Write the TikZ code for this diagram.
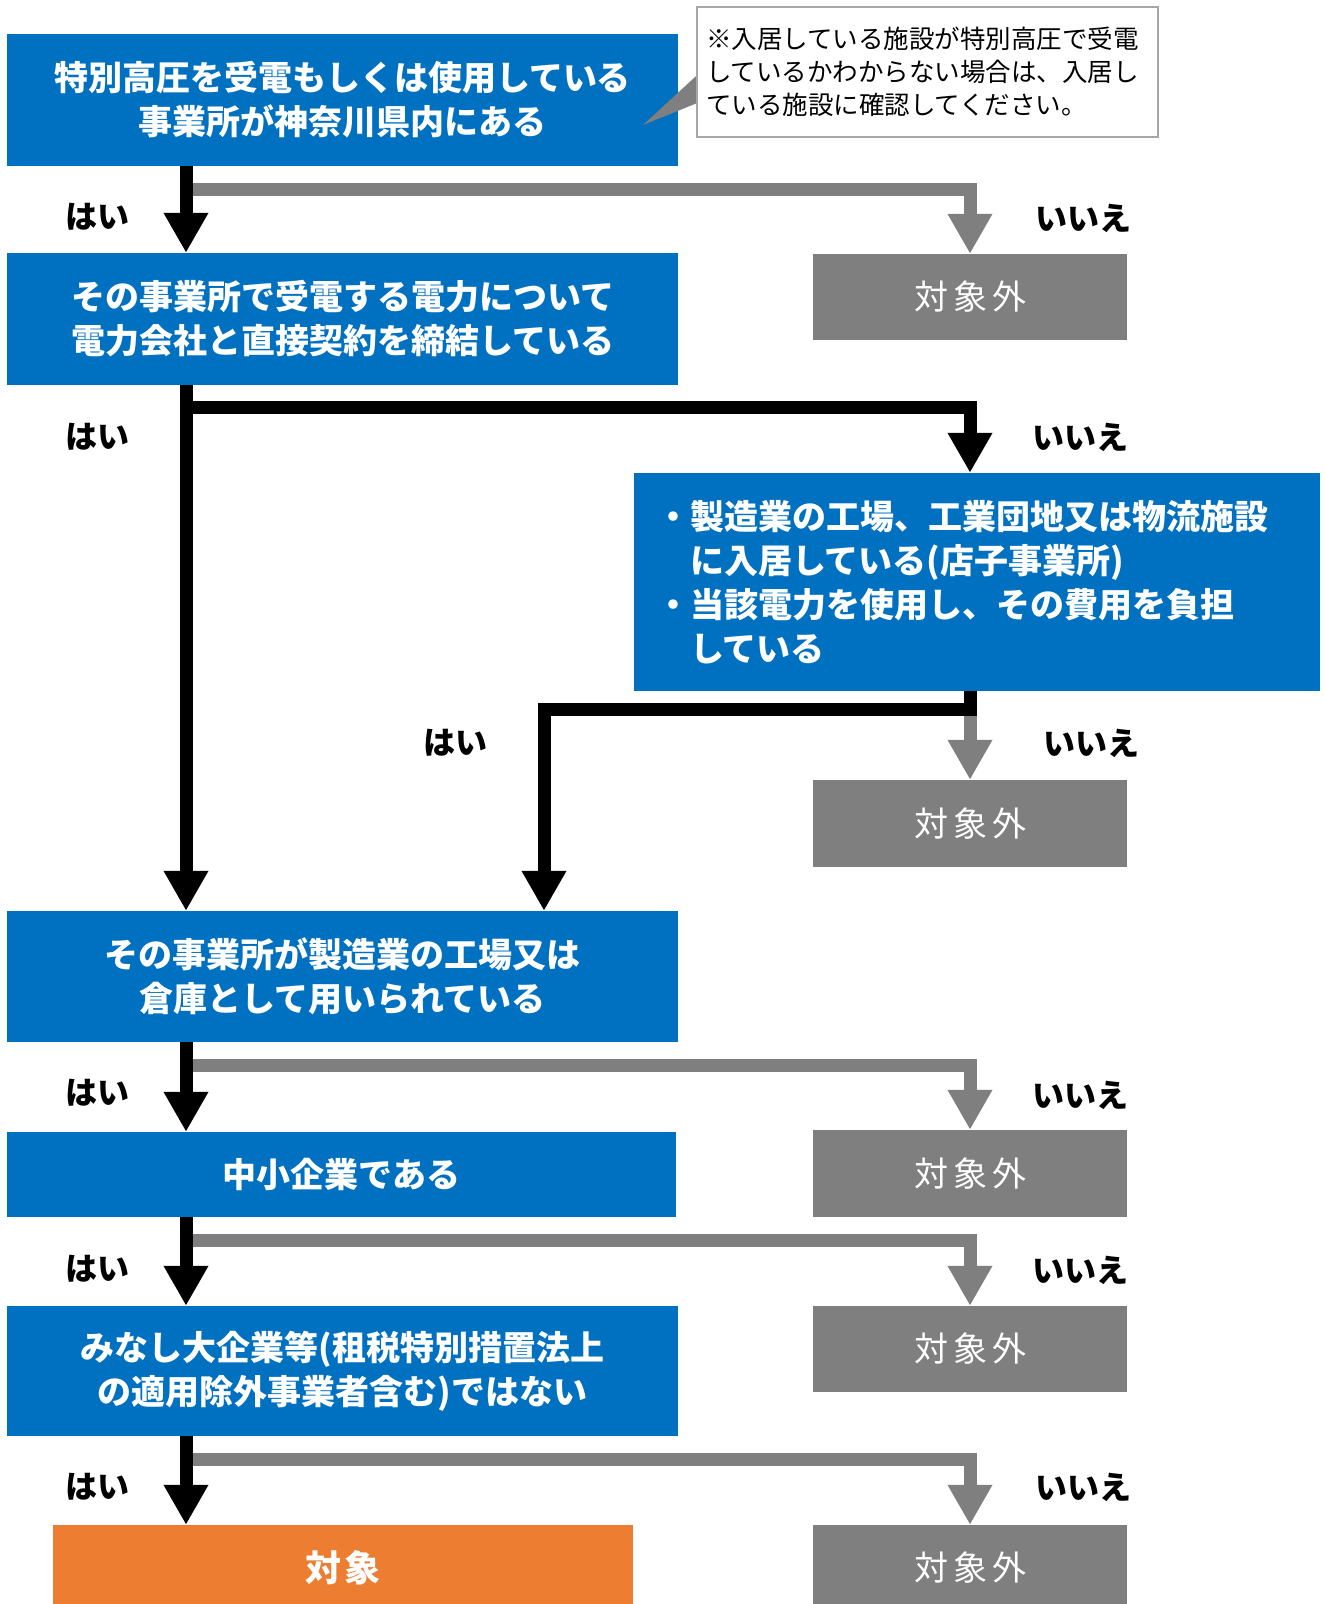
\documentclass[tikz,border=0pt]{standalone}
\usepackage{fontspec}
\setmainfont{Noto Sans CJK JP}
\usetikzlibrary{arrows.meta, calc}

\definecolor{askblue}{HTML}{0070C0}
\definecolor{offgray}{HTML}{7F7F7F}
\definecolor{okorange}{HTML}{ED7D31}
\definecolor{notegray}{HTML}{A6A6A6}

\newcommand{\offtext}{対\hspace{5pt}象\hspace{5pt}外}

\begin{document}
\begin{tikzpicture}[x = 1pt, y = -1pt,
    askbox/.style = {fill = askblue, text = white, align = center, inner sep = 0pt,
      font = \fontsize{34}{44}\selectfont\bfseries,
      minimum width = 671pt, minimum height = 132pt},
    offbox/.style = {fill = offgray, text = white, inner sep = 0pt,
      font = \fontsize{34}{40}\selectfont,
      minimum width = 314pt, minimum height = 86pt},
    notebox/.style = {draw = notegray, line width = 1.5pt, fill = white, align = left,
      font = \fontsize{25.5}{33}\selectfont, text width = 443pt, inner xsep = 9pt,
      minimum height = 130pt},
    ans/.style = {font = \fontsize{32}{36}\selectfont\bfseries},
    yesline/.style = {line width = 13pt, -{Triangle[length = 40pt, width = 42pt]}},
    noline/.style = {yesline, draw = offgray},
    ]
    \useasboundingbox (0, 0) rectangle (1325, 1604);
    \clip (0, 0) rectangle (1325, 1604);

    \coordinate (spine) at (186, 0);

    % questions
    \node[askbox] (q1) at (342.5, 100) {特別高圧を受電もしくは使用している\\事業所が神奈川県内にある};
    \node[askbox] (q2) at (342.5, 319) {その事業所で受電する電力について\\電力会社と直接契約を締結している};
    \node[askbox, align = left, text width = 642pt, inner xsep = 22pt, minimum width = 686pt,
      minimum height = 218pt] (q3) at (977, 582)
      {・製造業の工場、工業団地又は物流施設\\\hspace*{1em}に入居している(店子事業所)\\
       ・当該電力を使用し、その費用を負担\\\hspace*{1em}している};
    \node[askbox, minimum height = 131pt] (q4) at (342.5, 976.5) {その事業所が製造業の工場又は\\倉庫として用いられている};
    \node[askbox, minimum width = 669pt, minimum height = 85pt] (q5) at (341.5, 1174.5) {中小企業である};
    \node[askbox, minimum height = 130pt] (q6) at (342.5, 1371) {みなし大企業等(租税特別措置法上\\の適用除外事業者含む)ではない};
    \node[fill = okorange, text = white, minimum width = 580pt, minimum height = 86pt,
      font = \fontsize{36}{40}\selectfont\bfseries] (target) at (343, 1568) {対\hspace{4pt}象};

    % answers
    \node[offbox] (no1) at (970, 297) {\offtext};
    \node[offbox, minimum height = 87pt] (no2) at (970, 823.5) {\offtext};
    \node[offbox, minimum height = 87pt] (no3) at (970, 1173.5) {\offtext};
    \node[offbox] (no4) at (970, 1349) {\offtext};
    \node[offbox] (no5) at (970, 1568) {\offtext};

    % note
    \fill[offgray] ($(q1.east)+(19, -25)$) -- ($(q1.east)+(19, 3)$) -- (643, 125) -- cycle;
    \node[notebox] (note) at (927.5, 72) {※入居している施設が特別高圧で受電\\しているかわからない場合は、入居し\\ている施設に確認してください。};

    \coordinate (b1) at ($(q1.south -| spine) + (0, 23)$);
    \coordinate (b2) at ($(q2.south -| spine) + (0, 22)$);
    \coordinate (b4) at ($(q4.south -| spine) + (0, 23)$);
    \coordinate (b5) at ($(q5.south -| spine) + (0, 23)$);
    \coordinate (b6) at ($(q6.south -| spine) + (0, 23)$);
    \coordinate (j3) at (544, 709);

    % no
    \draw[noline] (b1) -| (no1.north);
    \draw[noline] (no1 |- j3) -- (no2.north);
    \draw[noline] (b4) -| (no3.north);
    \draw[noline] (b5) -| (no4.north);
    \draw[noline] (b6) -| (no5.north);

    % yes
    \draw[yesline] (q1.south -| spine) -- (q2.north -| spine);
    \draw[yesline] (b2) -| (q3.north -| no1.north);
    \draw[yesline] (q2.south -| spine) -- (q4.north -| spine);
    \draw[yesline] (q3.south -| no1) |- (j3) -- (j3 |- q4.north);
    \draw[yesline] (q4.south -| spine) -- (q5.north -| spine);
    \draw[yesline] (q5.south -| spine) -- (q6.north -| spine);
    \draw[yesline] (q6.south -| spine) -- (target.north -| spine);

    \node[ans] (y1) at (97, 217) {はい};
    \node[ans] (n1) at (1083, 218) {いいえ};
    \node[ans] (y2) at (97, 437) {はい};
    \node[ans] (n2) at (1080, 437) {いいえ};
    \node[ans] (y3) at (455, 743) {はい};
    \node[ans] (n3) at (1091, 743) {いいえ};
    \node[ans] (y4) at (97, 1093) {はい};
    \node[ans] (n4) at (1080, 1095) {いいえ};
    \node[ans] (y5) at (97, 1269) {はい};
    \node[ans] (n5) at (1080, 1270) {いいえ};
    \node[ans] (y6) at (97, 1487) {はい};
    \node[ans] (n6) at (1083, 1487) {いいえ};
\end{tikzpicture}
\end{document}
